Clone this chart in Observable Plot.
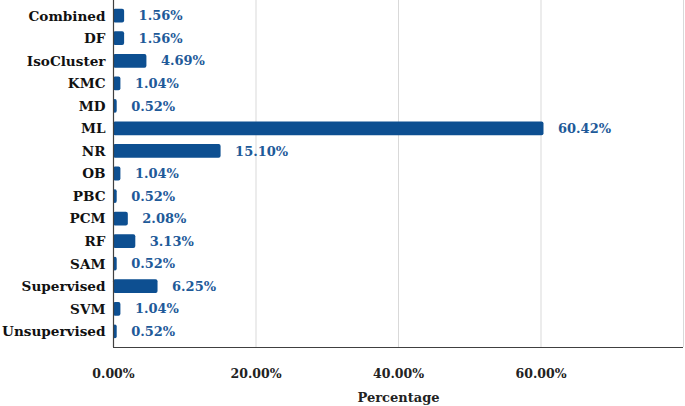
<!DOCTYPE html>
<html>
<head>
<meta charset="utf-8">
<script src="https://cdn.jsdelivr.net/npm/d3@7"></script>
<script src="https://cdn.jsdelivr.net/npm/@observablehq/plot@0.6"></script>
<style>
  html, body { margin: 0; padding: 0; background: #fff; }
  #chart svg { display: block; }
</style>
</head>
<body>
<div id="chart"></div>
<script>
const categories = ["Combined","DF","IsoCluster","KMC","MD","ML","NR","OB","PBC","PCM","RF","SAM","Supervised","SVM","Unsupervised"];
const values = [1.56, 1.56, 4.69, 1.04, 0.52, 60.42, 15.10, 1.04, 0.52, 2.08, 3.13, 0.52, 6.25, 1.04, 0.52];
const xTicks = [0, 20, 40, 60];
const gridLines = [20, 40, 60, 80];

const data = categories.map((c, i) => ({category: c, value: values[i]}));
const font = "'DejaVu Serif', Georgia, serif";

const H = 406, MB = 59, MT = 0, PAD = 0.39;
// offset from the centre of the last band to the bottom of the frame
const step = (H - MB - MT) / (categories.length - PAD + 2 * PAD);
const bottomDy = PAD * step + (1 - PAD) * step / 2;

const chart = Plot.plot({
  width: 685,
  height: H,
  marginLeft: 113,
  marginRight: 2,
  marginTop: MT,
  marginBottom: MB,
  style: {fontFamily: font, background: "#fff"},
  x: {domain: [0, 80], label: null, axis: null},
  y: {domain: categories, padding: PAD, round: false, label: null, axis: null},
  marks: [
    Plot.ruleX(gridLines, {stroke: "#d9d9d9", strokeWidth: 1}),
    Plot.barX(data, {y: "category", x: "value", fill: "#0d4f91", rx: 2}),
    Plot.ruleX([0], {stroke: "#404040", strokeWidth: 1.2}),
    Plot.ruleY([categories[categories.length - 1]], {x1: 0, x2: 80, dy: bottomDy, stroke: "#404040", strokeWidth: 1.2}),
    Plot.axisY({tickSize: 0, tickPadding: 8, fontSize: 13.6, fontWeight: "bold", fill: "#111", label: null}),
    Plot.axisX(xTicks, {tickSize: 0, tickPadding: 22, fontSize: 12.5, fontWeight: "bold", fill: "#222", tickFormat: d => d.toFixed(2) + "%", label: null}),
    Plot.text(data, {y: "category", x: "value", text: d => d.value.toFixed(2) + "%", dx: 14, textAnchor: "start", fill: "#1e5a99", fontSize: 13, fontWeight: "bold"}),
    Plot.text(["Percentage"], {frameAnchor: "bottom", dy: 54, text: d => d, fontSize: 13, fontWeight: "bold", fill: "#222"})
  ]
});

document.getElementById("chart").appendChild(chart);
</script>
</body>
</html>
